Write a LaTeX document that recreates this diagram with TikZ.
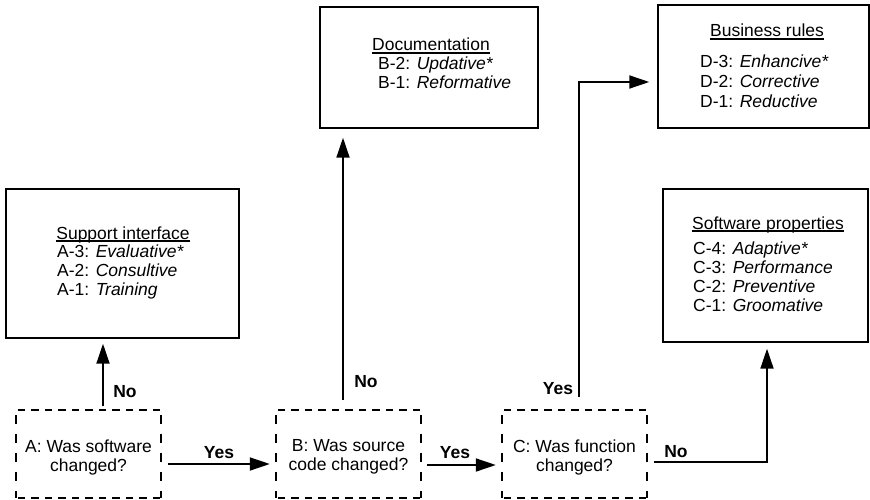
\documentclass[tikz,border=0pt]{standalone}
\usepackage{fontspec}
\setmainfont{Liberation Sans}
\usetikzlibrary{arrows.meta}
\begin{document}
\begin{tikzpicture}[x=1pt,y=-1pt,
  every node/.style={font=\fontsize{17.5}{19}\selectfont},
  boxsolid/.style={draw, line width=1.4pt, rectangle, inner sep=0pt},
  qbox/.style={rectangle, inner sep=0pt, minimum width=145pt, minimum height=88pt},
  qtext/.style={inner sep=0pt, align=center},
  hdash/.style={line width=1.6pt, dash pattern=on 7.5pt off 6pt, dash phase=-2pt},
  vdash/.style={line width=1.6pt, dash pattern=on 9.5pt off 9.5pt, dash phase=-5pt},
  arr/.style={line width=1.8pt, -{Triangle[length=20pt,width=13pt]}},
  lbl/.style={font=\fontsize{17.5}{19}\selectfont\bfseries, inner sep=0pt},
  ttl/.style={inner sep=0pt, anchor=base},
  itm/.style={inner sep=0pt, anchor=base west},
  uline/.style={line width=1.1pt}
]
\useasboundingbox (0,0) rectangle (870,500);

% solid boxes
\node[boxsolid, minimum width=233pt, minimum height=149pt] (S) at (122.5,263.5) {};
\node[boxsolid, minimum width=218pt, minimum height=121pt] (D) at (429,67.5) {};
\node[boxsolid, minimum width=211pt, minimum height=123pt] (R) at (763.5,66.5) {};
\node[boxsolid, minimum width=205pt, minimum height=153pt] (P) at (765.5,265.5) {};

% Support interface
\node[ttl] (St) at (123,239) {Support interface};
\draw[uline] ([yshift=-2pt]St.base west) -- ([yshift=-2pt]St.base east);
\node[itm] (S3) at (57,257) {A-3: \textit{Evaluative*}};
\node[itm] (S2) at (57,276) {A-2: \textit{Consultive}};
\node[itm] (S1) at (57,295) {A-1: \textit{Training}};

% Documentation
\node[ttl] (Dt) at (431,51) {Documentation};
\draw[uline] ([yshift=-2pt]Dt.base west) -- ([yshift=-2pt]Dt.base east);
\node[itm] (D2) at (378,70) {B-2: \textit{Updative*}};
\node[itm] (D1) at (378,89) {B-1: \textit{Reformative}};

% Business rules
\node[ttl] (Rt) at (767,37) {Business rules};
\draw[uline] ([yshift=-2pt]Rt.base west) -- ([yshift=-2pt]Rt.base east);
\node[itm] (R3) at (700,68) {D-3: \textit{Enhancive*}};
\node[itm] (R2) at (700,88) {D-2: \textit{Corrective}};
\node[itm] (R1) at (700,108) {D-1: \textit{Reductive}};

% Software properties
\node[ttl] (Pt) at (768,229) {Software properties};
\draw[uline] ([yshift=-2pt]Pt.base west) -- ([yshift=-2pt]Pt.base east);
\node[itm] (P4) at (693,254) {C-4: \textit{Adaptive*}};
\node[itm] (P3) at (693,273) {C-3: \textit{Performance}};
\node[itm] (P2) at (693,292) {C-2: \textit{Preventive}};
\node[itm] (P1) at (693,311) {C-1: \textit{Groomative}};

% question boxes
\node[qbox] (A) at (88.5,454) {};
\node[qbox] (B) at (348.5,454) {};
\node[qbox] (C) at (574.5,454) {};
\node[qtext] (At) at ([yshift=-3pt]A.center) {A: Was software\\changed?};
\node[qtext] (Bt) at ([yshift=-3pt]B.center) {B: Was source\\code changed?};
\node[qtext] (Ct) at ([yshift=-3pt]C.center) {C: Was function\\changed?};
\foreach \n in {A,B,C}{
  \draw[hdash] (\n.north west) -- (\n.north east);
  \draw[hdash] (\n.south west) -- (\n.south east);
  \draw[vdash] (\n.north west) -- (\n.south west);
  \draw[vdash] (\n.north east) -- (\n.south east);
}

% connectors
\draw[arr, shorten <=4pt, shorten >=5pt] ([xshift=14.5pt]A.north) -- ([xshift=14.5pt]A.north |- S.south);
\draw[arr, shorten <=10pt, shorten >=9pt] ([xshift=-5.5pt]B.north) -- ([xshift=-5.5pt]B.north |- D.south);
\coordinate (cbr) at ([yshift=-15.5pt]R.west);
\draw[arr, shorten <=13pt, shorten >=8pt] ([xshift=4.5pt]C.north) |- (cbr);
\draw[arr, shorten <=7pt, shorten >=6pt] ([yshift=-8pt]C.east) -| ([xshift=1.5pt]P.south);
\draw[arr, shorten <=7pt, shorten >=6pt] ([yshift=-10pt]A.east) -- ([yshift=-10pt]A.east -| B.west);
\draw[arr, shorten <=6pt, shorten >=6pt] ([yshift=-11pt]B.east) -- ([yshift=-11pt]B.east -| C.west);

% labels
\node[lbl] (nA) at (125,392) {No};
\node[lbl] (yAB) at (219,453) {Yes};
\node[lbl] (nB) at (366,382) {No};
\node[lbl] (yBC) at (455,453) {Yes};
\node[lbl] (yC) at (558,389) {Yes};
\node[lbl] (nC) at (676,452) {No};
\end{tikzpicture}
\end{document}
